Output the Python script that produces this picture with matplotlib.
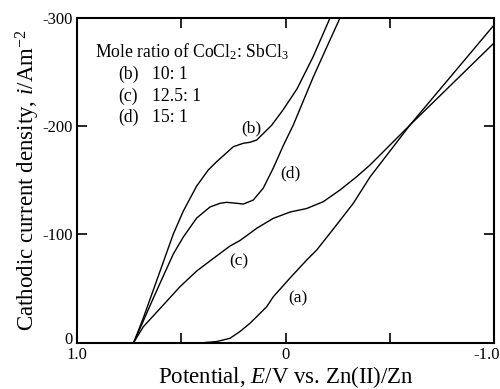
import matplotlib
matplotlib.use("Agg")
import matplotlib.pyplot as plt
import matplotlib.transforms as mtransforms

plt.rcParams['font.family'] = ['Liberation Serif', 'DejaVu Serif']
plt.rcParams['mathtext.fontset'] = 'custom'
plt.rcParams['mathtext.rm'] = 'Liberation Serif'
plt.rcParams['mathtext.it'] = 'Liberation Serif:italic'
plt.rcParams['axes.unicode_minus'] = False

# Polarization curves: potential (V vs. Zn(II)/Zn) and cathodic current density (A/m2)
E_a = [0.386, 0.33, 0.2662, 0.2182, 0.1703, 0.1381, 0.0902, 0.0585, -0.0216,
       -0.1017, -0.1496, -0.2293, -0.3252, -0.4053, -0.5971, -1.0]
i_a = [0, -0.9, -3.9, -10.2, -17.8, -23.9, -33.1, -42.3, -59.6,
       -76.3, -85.5, -104.9, -128.7, -153.0, -201.1, -293.5]

E_b = [0.728, 0.682, 0.634, 0.5861, 0.5381, 0.4902, 0.4259, 0.3703, 0.33,
       0.2504, 0.2024, 0.1703, 0.1381, 0.0902, 0.0662, 0.012, -0.055, -0.132,
       -0.2134]
i_b = [0, -22.6, -48.5, -74.4, -100.3, -121.5, -144.7, -159.5, -167.2,
       -181.0, -184.2, -185.1, -187.2, -196.3, -200.9, -215.0, -234.4, -264.0,
       -300.0]

E_c = [0.728, 0.682, 0.5861, 0.506, 0.4259, 0.3463, 0.2662, 0.2182, 0.1381,
       0.0585, -0.0216, -0.1017, -0.1813, -0.2614, -0.3415, -0.4053, -0.5971,
       -1.0]
i_c = [0, -14.6, -34.7, -51.6, -66.1, -77.7, -89.2, -94.3, -105.6,
       -114.8, -120.6, -123.9, -130.2, -141.0, -153.3, -164.1, -201.1,
       -276.9]

E_d = [0.728, 0.682, 0.634, 0.5861, 0.5381, 0.4902, 0.4259, 0.3621, 0.3141,
       0.282, 0.234, 0.2024, 0.1544, 0.1065, 0.0585, 0.0105, -0.0374, -0.1333,
       -0.2134, -0.2614]
i_d = [0, -19.9, -41.0, -61.5, -81.8, -97.5, -115.1, -125.3, -128.7,
       -129.6, -128.7, -128.0, -131.7, -142.8, -161.3, -182.1, -201.1, -245.5,
       -279.7, -300.0]

curve_labels = ['(a)', '(b)', '(c)', '(d)']
label_E = [-0.0585, 0.162, 0.2216, -0.0216]
label_i = [-40.9, -198.0, -74.7, -156.4]

x_ticks = [1.0, 0.5, 0.0, -0.5, -1.0]
x_ticklabels = ['1.0', '', '0', '', '-1.0']
y_ticks = [0, -100, -200, -300]
y_ticklabels = ['0', '-100', '-200', '-300']

fig = plt.figure(figsize=(5.0, 3.89), dpi=100)
ax = fig.add_axes([0.154, 0.1195, 0.834, 0.8342])

for E, i in [(E_a, i_a), (E_b, i_b), (E_c, i_c), (E_d, i_d)]:
    ax.plot(E, i, color='black', lw=1.0, solid_joinstyle='round')

for lab, x, y in zip(curve_labels, label_E, label_i):
    ax.text(x, y, lab, fontsize=12.5, ha='center', va='center')

ax.set_xlim(1.0, -1.0)
ax.set_ylim(0, -300)
ax.set_xticks(x_ticks)
ax.set_xticklabels(x_ticklabels)
ax.set_yticks(y_ticks)
ax.set_yticklabels(y_ticklabels)
ax.tick_params(direction='in', length=7, width=1.2, labelsize=12,
               top=True, right=True, pad=3)
for s in ax.spines.values():
    s.set_linewidth(1.5)

# last x label sits flush with the right edge
last = ax.get_xticklabels()[-1]
last.set_ha('right')
last.set_transform(last.get_transform() +
                   mtransforms.ScaledTranslation(6 / 100, 0, fig.dpi_scale_trans))
# lift the "0" on the y axis clear of the "1.0" below it
zero = ax.get_yticklabels()[0]
zero.set_transform(zero.get_transform() +
                   mtransforms.ScaledTranslation(0, 5 / 100, fig.dpi_scale_trans))

ax.set_xlabel('Potential, $E$/V vs. Zn(II)/Zn', fontsize=16.5, labelpad=1)
ax.set_ylabel('Cathodic current density, $i$/Am$^{-2}$', fontsize=16.5, labelpad=0)

# legend block in axes coordinates
ax.text(0.043, 0.897, 'Mole ratio of CoCl$_2$: SbCl$_3$', transform=ax.transAxes,
        fontsize=12.7, va='center', ha='left')
rows = [('(b)', '10: 1'), ('(c)', '12.5: 1'), ('(d)', '15: 1')]
for k, (tag, ratio) in enumerate(rows):
    yy = 0.825 - k * 0.066
    ax.text(0.098, yy, tag, transform=ax.transAxes, fontsize=12.7, va='center')
    ax.text(0.18, yy, ratio, transform=ax.transAxes, fontsize=12.7, va='center')

fig.savefig('out.png', dpi=100)
